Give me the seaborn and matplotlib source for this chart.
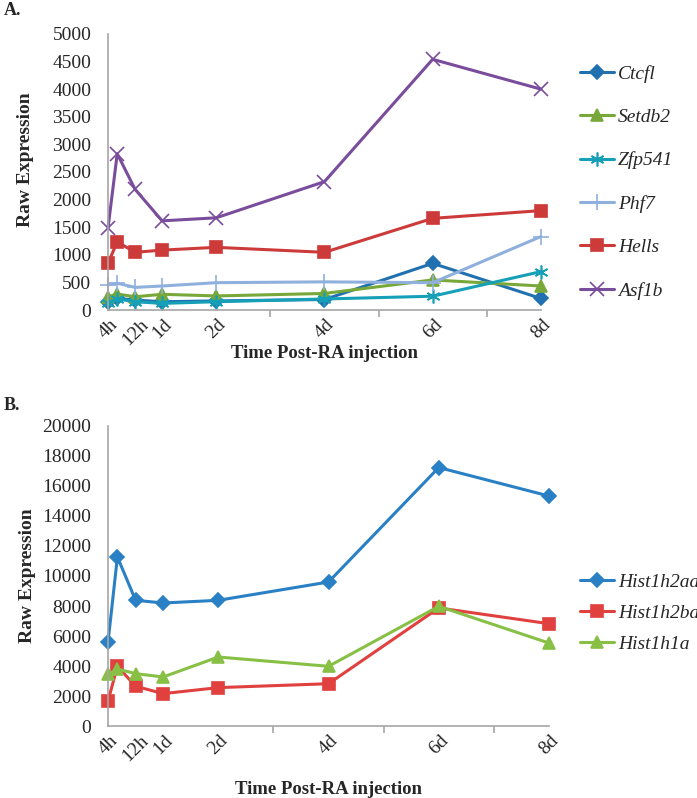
import numpy as np
import pandas as pd
import seaborn as sns
from matplotlib import pyplot as plt

# time points in days (0h, 4h, 12h, 1d, 2d, 4d, 6d, 8d)
DAYS = [0, 0.17, 0.5, 1, 2, 4, 6, 8]
TICK_POS = [0, 0.5, 1, 2, 4, 6, 8]
TICK_LABELS = ["4h", "12h", "1d", "2d", "4d", "6d", "8d"]

# panel A
GENES_A = ["Ctcfl", "Setdb2", "Zfp541", "Phf7", "Hells", "Asf1b"]
ctcfl  = [150, 210, 180, 150, 165, 190, 845, 210]
setdb2 = [240, 290, 240, 285, 255, 300, 545, 435]
zfp541 = [130, 200, 150, 120, 150, 200, 250, 695]
phf7   = [455, 485, 410, 435, 495, 510, 495, 1330]
hells  = [845, 1235, 1045, 1085, 1135, 1045, 1660, 1800]
asf1b  = [1490, 2830, 2185, 1615, 1670, 2325, 4540, 4000]

# panel B
GENES_B = ["Hist1h2aa", "Hist1h2ba", "Hist1h1a"]
hist1h2aa = [5600, 11270, 8380, 8200, 8380, 9600, 17230, 15330]
hist1h2ba = [1670, 3980, 2650, 2160, 2560, 2820, 7870, 6820]
hist1h1a  = [3450, 3800, 3490, 3270, 4600, 3980, 7980, 5530]

COLORS_A = {"Ctcfl": "#2170b0", "Setdb2": "#78a83a", "Zfp541": "#16a0b8",
            "Phf7": "#8fb0dc", "Hells": "#cc3b3a", "Asf1b": "#7a4d9c"}
MARKERS_A = {"Ctcfl": "D", "Setdb2": "^", "Zfp541": (6, 2, 0),
             "Phf7": "+", "Hells": "s", "Asf1b": "x"}
COLORS_B = {"Hist1h2aa": "#2a80c4", "Hist1h2ba": "#e0403e", "Hist1h1a": "#88c046"}
MARKERS_B = {"Hist1h2aa": "D", "Hist1h2ba": "s", "Hist1h1a": "^"}

MARKER_SIZE = {"D": 7, "^": 8, "s": 8.5, "x": 10, "+": 11, (6, 2, 0): 10}


def long_df(genes, series):
    rows = []
    for g, vals in zip(genes, series):
        for d, v in zip(DAYS, vals):
            rows.append({"gene": g, "day": d, "value": v})
    return pd.DataFrame(rows)


df_a = long_df(GENES_A, [ctcfl, setdb2, zfp541, phf7, hells, asf1b])
df_b = long_df(GENES_B, [hist1h2aa, hist1h2ba, hist1h1a])

sns.set_style("white")
plt.rcParams["font.family"] = ["Liberation Serif", "DejaVu Serif"]

fig = plt.figure(figsize=(6.97, 7.98), dpi=100)
ax_a = fig.add_axes([0.155, 0.6115, 0.621, 0.346])
ax_b = fig.add_axes([0.155, 0.0902, 0.6327, 0.376])


def marker_kw(g, colors, markers):
    m = markers[g]
    return dict(marker=m, markersize=MARKER_SIZE[m],
                markeredgewidth=1.2, markerfacecolor=colors[g],
                markeredgecolor=colors[g])


def draw(ax, df, genes, colors, markers, ymax, ystep, leg_top, spacing,
         ylab_xy, xlab_y):
    for g in genes:
        sns.lineplot(data=df[df.gene == g], x="day", y="value",
                     color=colors[g], linewidth=2.2, ax=ax, label=g,
                     clip_on=False, **marker_kw(g, colors, markers))
    ax.set_xlim(0, 8)
    ax.set_ylim(0, ymax)
    ax.set_yticks(np.arange(0, ymax + 1, ystep))
    ax.tick_params(axis="y", labelsize=14, length=0, pad=12)
    ax.set_xticks(TICK_POS)
    ax.set_xticklabels(TICK_LABELS, rotation=45, ha="center", fontsize=14)
    ax.tick_params(axis="x", which="major", length=0, pad=4)
    ax.set_xticks(range(0, 9), minor=True)
    ax.tick_params(axis="x", which="minor", length=5, color="#a6a6a6",
                   width=1.2, direction="out", bottom=True)
    for s in ("top", "right"):
        ax.spines[s].set_visible(False)
    for s in ("left", "bottom"):
        ax.spines[s].set_color("#a6a6a6")
        ax.spines[s].set_linewidth(1.2)
    ax.set_xlabel("Time Post-RA injection", fontsize=13.5, fontweight="bold")
    ax.set_ylabel("Raw Expression", fontsize=14, fontweight="bold")
    ax.yaxis.set_label_coords(*ylab_xy)
    ax.xaxis.set_label_coords(0.5, xlab_y)
    ax.legend(loc="upper left", bbox_to_anchor=(0.832, leg_top),
              bbox_transform=fig.transFigure, borderaxespad=0, borderpad=0,
              frameon=False, handlelength=1.75, handletextpad=0.2,
              labelspacing=spacing, prop={"style": "italic", "size": 14})


draw(ax_a, df_a, GENES_A, COLORS_A, MARKERS_A, 5000, 500,
     0.919, 1.32, (-0.171, 0.543), -0.127)
draw(ax_b, df_b, GENES_B, COLORS_B, MARKERS_B, 20000, 2000,
     0.282, 0.7, (-0.163, 0.5), -0.183)

fig.text(0.005, 0.997, "A.", fontsize=13, fontweight="bold", va="top")
fig.text(0.005, 0.5025, "B.", fontsize=13, fontweight="bold", va="top")

fig.savefig("out.png", dpi=100)
